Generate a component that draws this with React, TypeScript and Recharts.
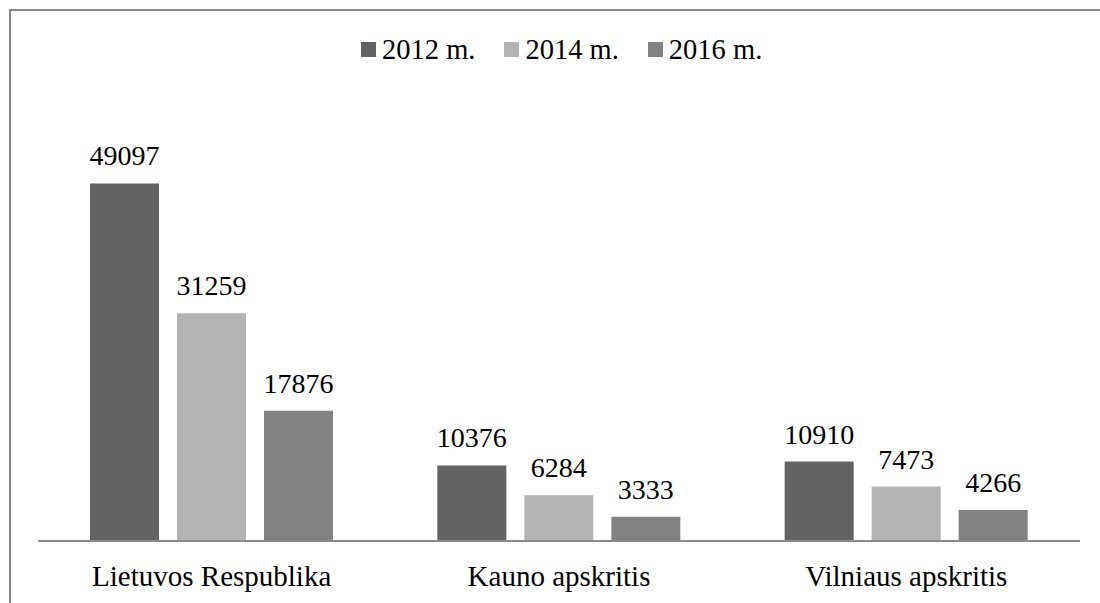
import React from "react";
import { BarChart, Bar, XAxis, YAxis, LabelList, Legend } from "recharts";

const categories = ["Lietuvos Respublika", "Kauno apskritis", "Vilniaus apskritis"];
const values2012 = [49097, 10376, 10910];
const values2014 = [31259, 6284, 7473];
const values2016 = [17876, 3333, 4266];
const seriesNames = ["2012 m.", "2014 m.", "2016 m."];
const seriesKeys = ["y2012", "y2014", "y2016"];
const seriesColors = ["#636363", "#b3b3b3", "#828282"];

const data = categories.map((name, i) => ({
  name,
  y2012: values2012[i],
  y2014: values2014[i],
  y2016: values2016[i],
}));

const FONT = "'Liberation Serif', 'Times New Roman', Times, serif";

const LegendContent = (props: any) => {
  const payload = (props && props.payload) || [];
  return (
    <div style={{ display: "flex", flexDirection: "row", alignItems: "center", fontFamily: FONT, fontSize: 28.5, lineHeight: "28px", color: "#000" }}>
      {payload.map((p: any, i: number) => (
        <div key={i} style={{ display: "flex", alignItems: "center", marginRight: i < payload.length - 1 ? 29 : 0 }}>
          <div style={{ width: 15, height: 15, background: p.color, marginRight: 6, marginTop: -2 }} />
          <span style={{ whiteSpace: "nowrap" }}>{p.value}</span>
        </div>
      ))}
    </div>
  );
};

export default function App() {
  return (
    <div style={{ position: "absolute", left: 0, top: 0, width: 1100, height: 603, overflow: "hidden", background: "#fff" }}>
      <div style={{ position: "absolute", left: 9, top: 9, width: 1200, height: 700, border: "2px solid #8a8a8a", boxSizing: "border-box" }} />
      <div style={{ position: "absolute", left: 0, top: 0 }}>
        <BarChart
          width={1100}
          height={603}
          data={data}
          margin={{ top: 104, right: 20, left: 38, bottom: 12 }}
          barSize={69}
          barGap={18}
        >
          <XAxis
            dataKey="name"
            height={50}
            tickLine={false}
            tickSize={0}
            tickMargin={24}
            axisLine={{ stroke: "#8a8a8a", strokeWidth: 2 }}
            tick={{ fill: "#000", fontSize: 29, fontFamily: FONT }}
            interval={0}
          />
          <YAxis hide domain={[0, 60000]} />
          <Legend
            layout="horizontal"
            align="center"
            verticalAlign="middle"
            wrapperStyle={{ top: 36, left: 361, width: 500 }}
            content={<LegendContent />}
          />
          {seriesKeys.map((k, i) => (
            <Bar key={k} dataKey={k} name={seriesNames[i]} fill={seriesColors[i]} isAnimationActive={false}>
              <LabelList dataKey={k} position="top" offset={18} fill="#000" fontSize={28} fontFamily={FONT} />
            </Bar>
          ))}
        </BarChart>
      </div>
    </div>
  );
}
